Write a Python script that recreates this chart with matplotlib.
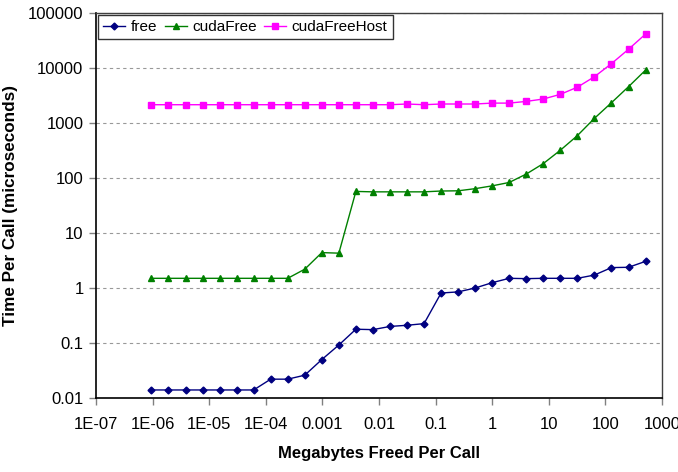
import matplotlib.pyplot as plt
import numpy as np

# tamanhos liberados por chamada (bytes) -> convertidos para MB
tamanhos_bytes = [1, 2, 4, 8, 16, 32, 64, 128, 256, 512, 1024, 2048, 4096, 8192,
                  16384, 32768, 65536, 131072, 262144, 524288, 1048576, 2097152,
                  4194304, 8388608, 16777216, 33554432, 67108864, 134217728,
                  268435456, 536870912]
megabytes = np.array(tamanhos_bytes, dtype=float) / 1048576

# tempos por chamada (microssegundos)
t_free = [0.014, 0.014, 0.014, 0.014, 0.014, 0.014, 0.014, 0.022, 0.022, 0.026,
          0.05, 0.092, 0.178, 0.175, 0.2, 0.21, 0.225, 0.81, 0.85, 1.0,
          1.25, 1.5, 1.48, 1.5, 1.5, 1.5, 1.72, 2.35, 2.38, 3.05]
t_cudafree = [1.5, 1.5, 1.5, 1.5, 1.5, 1.5, 1.5, 1.5, 1.5, 2.2,
              4.4, 4.3, 57, 56, 56, 56, 56, 58, 58.5, 64,
              72, 83, 118, 183, 320, 590, 1215, 2340, 4570, 9150]
t_cudafreehost = [2150, 2150, 2150, 2150, 2150, 2150, 2150, 2150, 2150, 2150,
                  2150, 2150, 2150, 2150, 2150, 2215, 2150, 2215, 2215, 2215,
                  2300, 2300, 2470, 2730, 3320, 4480, 6940, 12000, 21900, 41400]

x_ticks = [1e-7, 1e-6, 1e-5, 1e-4, 1e-3, 1e-2, 1e-1, 1, 10, 100, 1000]
x_labels = ["1E-07", "1E-06", "1E-05", "1E-04", "0.001", "0.01", "0.1",
            "1", "10", "100", "1000"]
y_ticks = [0.01, 0.1, 1, 10, 100, 1000, 10000, 100000]
y_labels = ["0.01", "0.1", "1", "10", "100", "1000", "10000", "100000"]

plt.rcParams["font.family"] = ["Liberation Sans", "DejaVu Sans"]

fig = plt.figure(figsize=(6.78, 4.72), dpi=100)
ax = fig.add_axes([96 / 678, 74 / 472, 566 / 678, 385 / 472])

ax.plot(megabytes, t_free, color="#000080", lw=1, marker="D", ms=3.5,
        label="free")
ax.plot(megabytes, t_cudafree, color="#008000", lw=1, marker="^", ms=5,
        label="cudaFree")
ax.plot(megabytes, t_cudafreehost, color="#FF00FF", lw=1, marker="s", ms=4.5,
        label="cudaFreeHost")

ax.set_xscale("log")
ax.set_yscale("log")
ax.set_xlim(1e-7, 1000)
ax.set_ylim(0.01, 100000)
ax.set_xticks(x_ticks)
ax.set_xticklabels(x_labels)
ax.set_yticks(y_ticks)
ax.set_yticklabels(y_labels)
ax.minorticks_off()
ax.tick_params(axis="both", labelsize=12, length=5, width=1, color="#808080",
               pad=4)
ax.tick_params(axis="x", pad=9)

ax.yaxis.grid(True, linestyle=(0, (3, 3)), color="#999999", lw=0.8)
for lado in ["left", "bottom"]:
    ax.spines[lado].set_color("black")
    ax.spines[lado].set_linewidth(1.2)
for lado in ["top", "right"]:
    ax.spines[lado].set_color("#404040")
    ax.spines[lado].set_linewidth(1)

ax.set_xlabel("Megabytes Freed Per Call", fontsize=12, fontweight="bold",
              labelpad=10)
ax.set_ylabel("Time Per Call (microseconds)", fontsize=12.3, fontweight="bold",
              labelpad=7)

leg = ax.legend(loc="upper left", ncol=3, fontsize=11, frameon=True,
                fancybox=False, edgecolor="black", borderaxespad=0.1,
                handlelength=1.45, handletextpad=0.35, columnspacing=0.5,
                borderpad=0.35)
leg.get_frame().set_linewidth(1)

fig.savefig("out.png", dpi=100)
